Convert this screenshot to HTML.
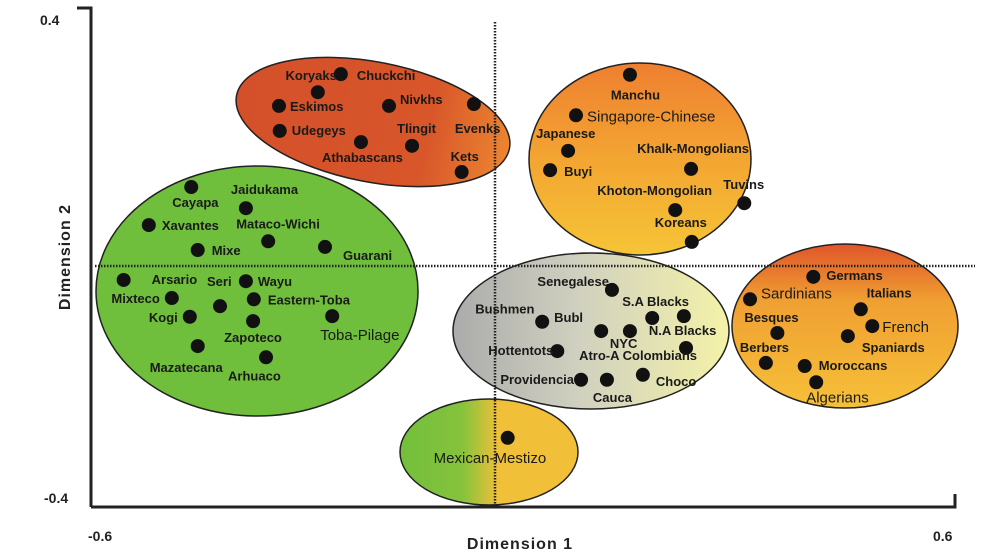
<!DOCTYPE html>
<html><head><meta charset="utf-8">
<style>
html,body{margin:0;padding:0;background:#fff;}
svg{display:block;font-family:"Liberation Sans",Arial,sans-serif;}
.lb{font-weight:bold;font-size:13px;fill:#1a1a1a;}
.ln{font-size:15px;fill:#1a1a1a;}
</style></head>
<body>
<svg id="chart" width="1005" height="554" viewBox="0 0 1005 554" xmlns="http://www.w3.org/2000/svg">
<defs>
<linearGradient id="gRed" x1="0" y1="0" x2="1" y2="0">
<stop offset="0" stop-color="#d4502a"/><stop offset="0.7" stop-color="#d8562a"/><stop offset="1" stop-color="#ec8530"/></linearGradient>
<linearGradient id="gOr" x1="0" y1="0" x2="0" y2="1">
<stop offset="0" stop-color="#ee7f30"/><stop offset="0.5" stop-color="#f3a532"/><stop offset="1" stop-color="#f6c436"/></linearGradient>
<linearGradient id="gOr2" x1="0" y1="0" x2="0" y2="1">
<stop offset="0" stop-color="#e0562a"/><stop offset="0.35" stop-color="#f0a032"/><stop offset="1" stop-color="#f6c038"/></linearGradient>
<linearGradient id="gGrey" x1="0" y1="0" x2="1" y2="0">
<stop offset="0" stop-color="#ababab"/><stop offset="0.45" stop-color="#d0d0c0"/><stop offset="1" stop-color="#f4f2a8"/></linearGradient>
<linearGradient id="gMex" x1="0" y1="0" x2="1" y2="0">
<stop offset="0" stop-color="#72bf3c"/><stop offset="0.35" stop-color="#86c23c"/><stop offset="0.55" stop-color="#f0c038"/><stop offset="1" stop-color="#f2c038"/></linearGradient>
</defs>
<g stroke="#222" stroke-width="1.5">
<ellipse cx="373" cy="122" rx="139" ry="60" transform="rotate(11 373 122)" fill="url(#gRed)"/>
<ellipse cx="640" cy="159" rx="111" ry="96" fill="url(#gOr)"/>
<ellipse cx="257" cy="291" rx="161" ry="125" fill="#6fbe3c"/>
<ellipse cx="591" cy="331" rx="138" ry="78" fill="url(#gGrey)"/>
<ellipse cx="845" cy="326" rx="113" ry="82" fill="url(#gOr2)"/>
<ellipse cx="489" cy="452" rx="89" ry="53" fill="url(#gMex)"/>
</g>
<g stroke="#222" stroke-width="2.5" stroke-dasharray="1.5 1.5">
<line x1="495" y1="22" x2="495" y2="505"/>
<line x1="95" y1="266" x2="975" y2="266"/>
</g>
<g stroke="#222" stroke-width="3" fill="none">
<polyline points="77,8 91,8 91,507"/>
<polyline points="91,507 955,507 955,494"/>
</g>
<g font-weight="bold" fill="#222">
<text x="40" y="25" font-size="14">0.4</text>
<text x="44" y="503" font-size="14">-0.4</text>
<text x="88" y="541" font-size="14">-0.6</text>
<text x="933" y="541" font-size="14">0.6</text>
<text x="520" y="549" font-size="16" text-anchor="middle" letter-spacing="1">Dimension 1</text>
<text x="0" y="0" font-size="16" text-anchor="middle" letter-spacing="1" transform="translate(70 257) rotate(-90)">Dimension 2</text>
</g>
<g id="points"></g>
</svg>
<script>
const names = ["Chuckchi","Koryaks","Eskimos","Udegeys","Nivkhs","Evenks","Tlingit","Athabascans","Kets",
"Manchu","Singapore-Chinese","Japanese","Buyi","Khalk-Mongolians","Khoton-Mongolian","Tuvins","Koreans",
"Cayapa","Jaidukama","Xavantes","Mataco-Wichi","Mixe","Guarani","Arsario","Wayu","Mixteco","Seri","Eastern-Toba","Kogi","Zapoteco","Toba-Pilage","Mazatecana","Arhuaco",
"Senegalese","S.A Blacks","N.A Blacks","Bushmen","Bubl","NYC","Atro-A Colombians","Hottentots","Providencia","Cauca","Choco",
"Germans","Sardinians","Italians","French","Spaniards","Besques","Berbers","Moroccans","Algerians","Mexican-Mestizo"];
const dim1 = [-0.254,-0.286,-0.340,-0.339,-0.187,-0.069,-0.155,-0.226,-0.086,
0.148,0.073,0.062,0.037,0.233,0.211,0.307,0.234,
-0.462,-0.386,-0.521,-0.355,-0.453,-0.276,-0.556,-0.386,-0.489,-0.422,-0.375,-0.464,-0.376,-0.266,-0.453,-0.358,
0.123,0.179,0.223,0.026,0.108,0.148,0.226,0.047,0.080,0.116,0.166,
0.403,0.315,0.469,0.485,0.451,0.353,0.337,0.391,0.407,-0.022];
const dim2 = [0.294,0.265,0.243,0.203,0.243,0.246,0.179,0.185,0.137,
0.293,0.228,0.171,0.140,0.142,0.076,0.087,0.025,
0.113,0.079,0.052,0.026,0.012,0.017,-0.036,-0.038,-0.065,-0.078,-0.067,-0.095,-0.102,-0.094,-0.142,-0.160,
-0.052,-0.097,-0.094,-0.103,-0.118,-0.118,-0.145,-0.150,-0.196,-0.196,-0.188,
-0.031,-0.067,-0.083,-0.110,-0.126,-0.121,-0.169,-0.174,-0.200,-0.289];
// label styling: [dx, dy, anchor, normalFont]
const labelStyle = [[16,6,"start",0],[19,-12,"end",0],[11,5,"start",0],[12,4,"start",0],[11,-2,"start",0],[-19,29,"start",0],[-15,-13,"start",0],[-39,20,"start",0],[-11,-11,"start",0],
[-19,25,"start",0],[11,6,"start",1],[-32,-13,"start",0],[14,6,"start",0],[-54,-16,"start",0],[-78,-15,"start",0],[-21,-14,"start",0],[-37,-15,"start",0],
[-19,20,"start",0],[-15,-14,"start",0],[13,5,"start",0],[-32,-13,"start",0],[14,5,"start",0],[18,13,"start",0],[28,4,"start",0],[12,5,"start",0],[-12,5,"end",0],[-13,-20,"start",0],[14,5,"start",0],[-12,5,"end",0],[-29,21,"start",0],[-12,24,"start",1],[-48,26,"start",0],[-38,23,"start",0],
[-3,-4,"end",0],[-30,-12,"start",0],[-35,19,"start",0],[-67,-8,"start",0],[-47,-9,"start",0],[-20,17,"start",0],[11,12,"end",0],[-4,4,"end",0],[-7,4,"end",0],[-14,22,"start",0],[13,11,"start",0],
[13,3,"start",0],[11,-1,"start",1],[6,-12,"start",0],[10,6,"start",1],[14,16,"start",0],[-33,-11,"start",0],[-26,-11,"start",0],[14,4,"start",0],[-10,20,"start",1],[-74,25,"start",1]];
function xScale(v){return 92 + (v + 0.6) / 1.2 * 863;}
function yScale(v){return 507 - (v + 0.4) / 0.8 * 499;}
const NS = "http://www.w3.org/2000/svg";
const g = document.getElementById("points");
for (let i = 0; i < names.length; i++) {
  const cx = xScale(dim1[i]), cy = yScale(dim2[i]);
  const c = document.createElementNS(NS, "circle");
  c.setAttribute("cx", cx); c.setAttribute("cy", cy); c.setAttribute("r", 7); c.setAttribute("fill", "#111");
  
  
  g.appendChild(c);
  const s = labelStyle[i];
  const t = document.createElementNS(NS, "text");
  t.setAttribute("x", cx + s[0]); t.setAttribute("y", cy + s[1]);
  t.setAttribute("text-anchor", s[2]);
  t.setAttribute("class", s[3] ? "ln" : "lb");
  t.textContent = names[i];
  
  
  g.appendChild(t);
}
</script>
</body></html>
